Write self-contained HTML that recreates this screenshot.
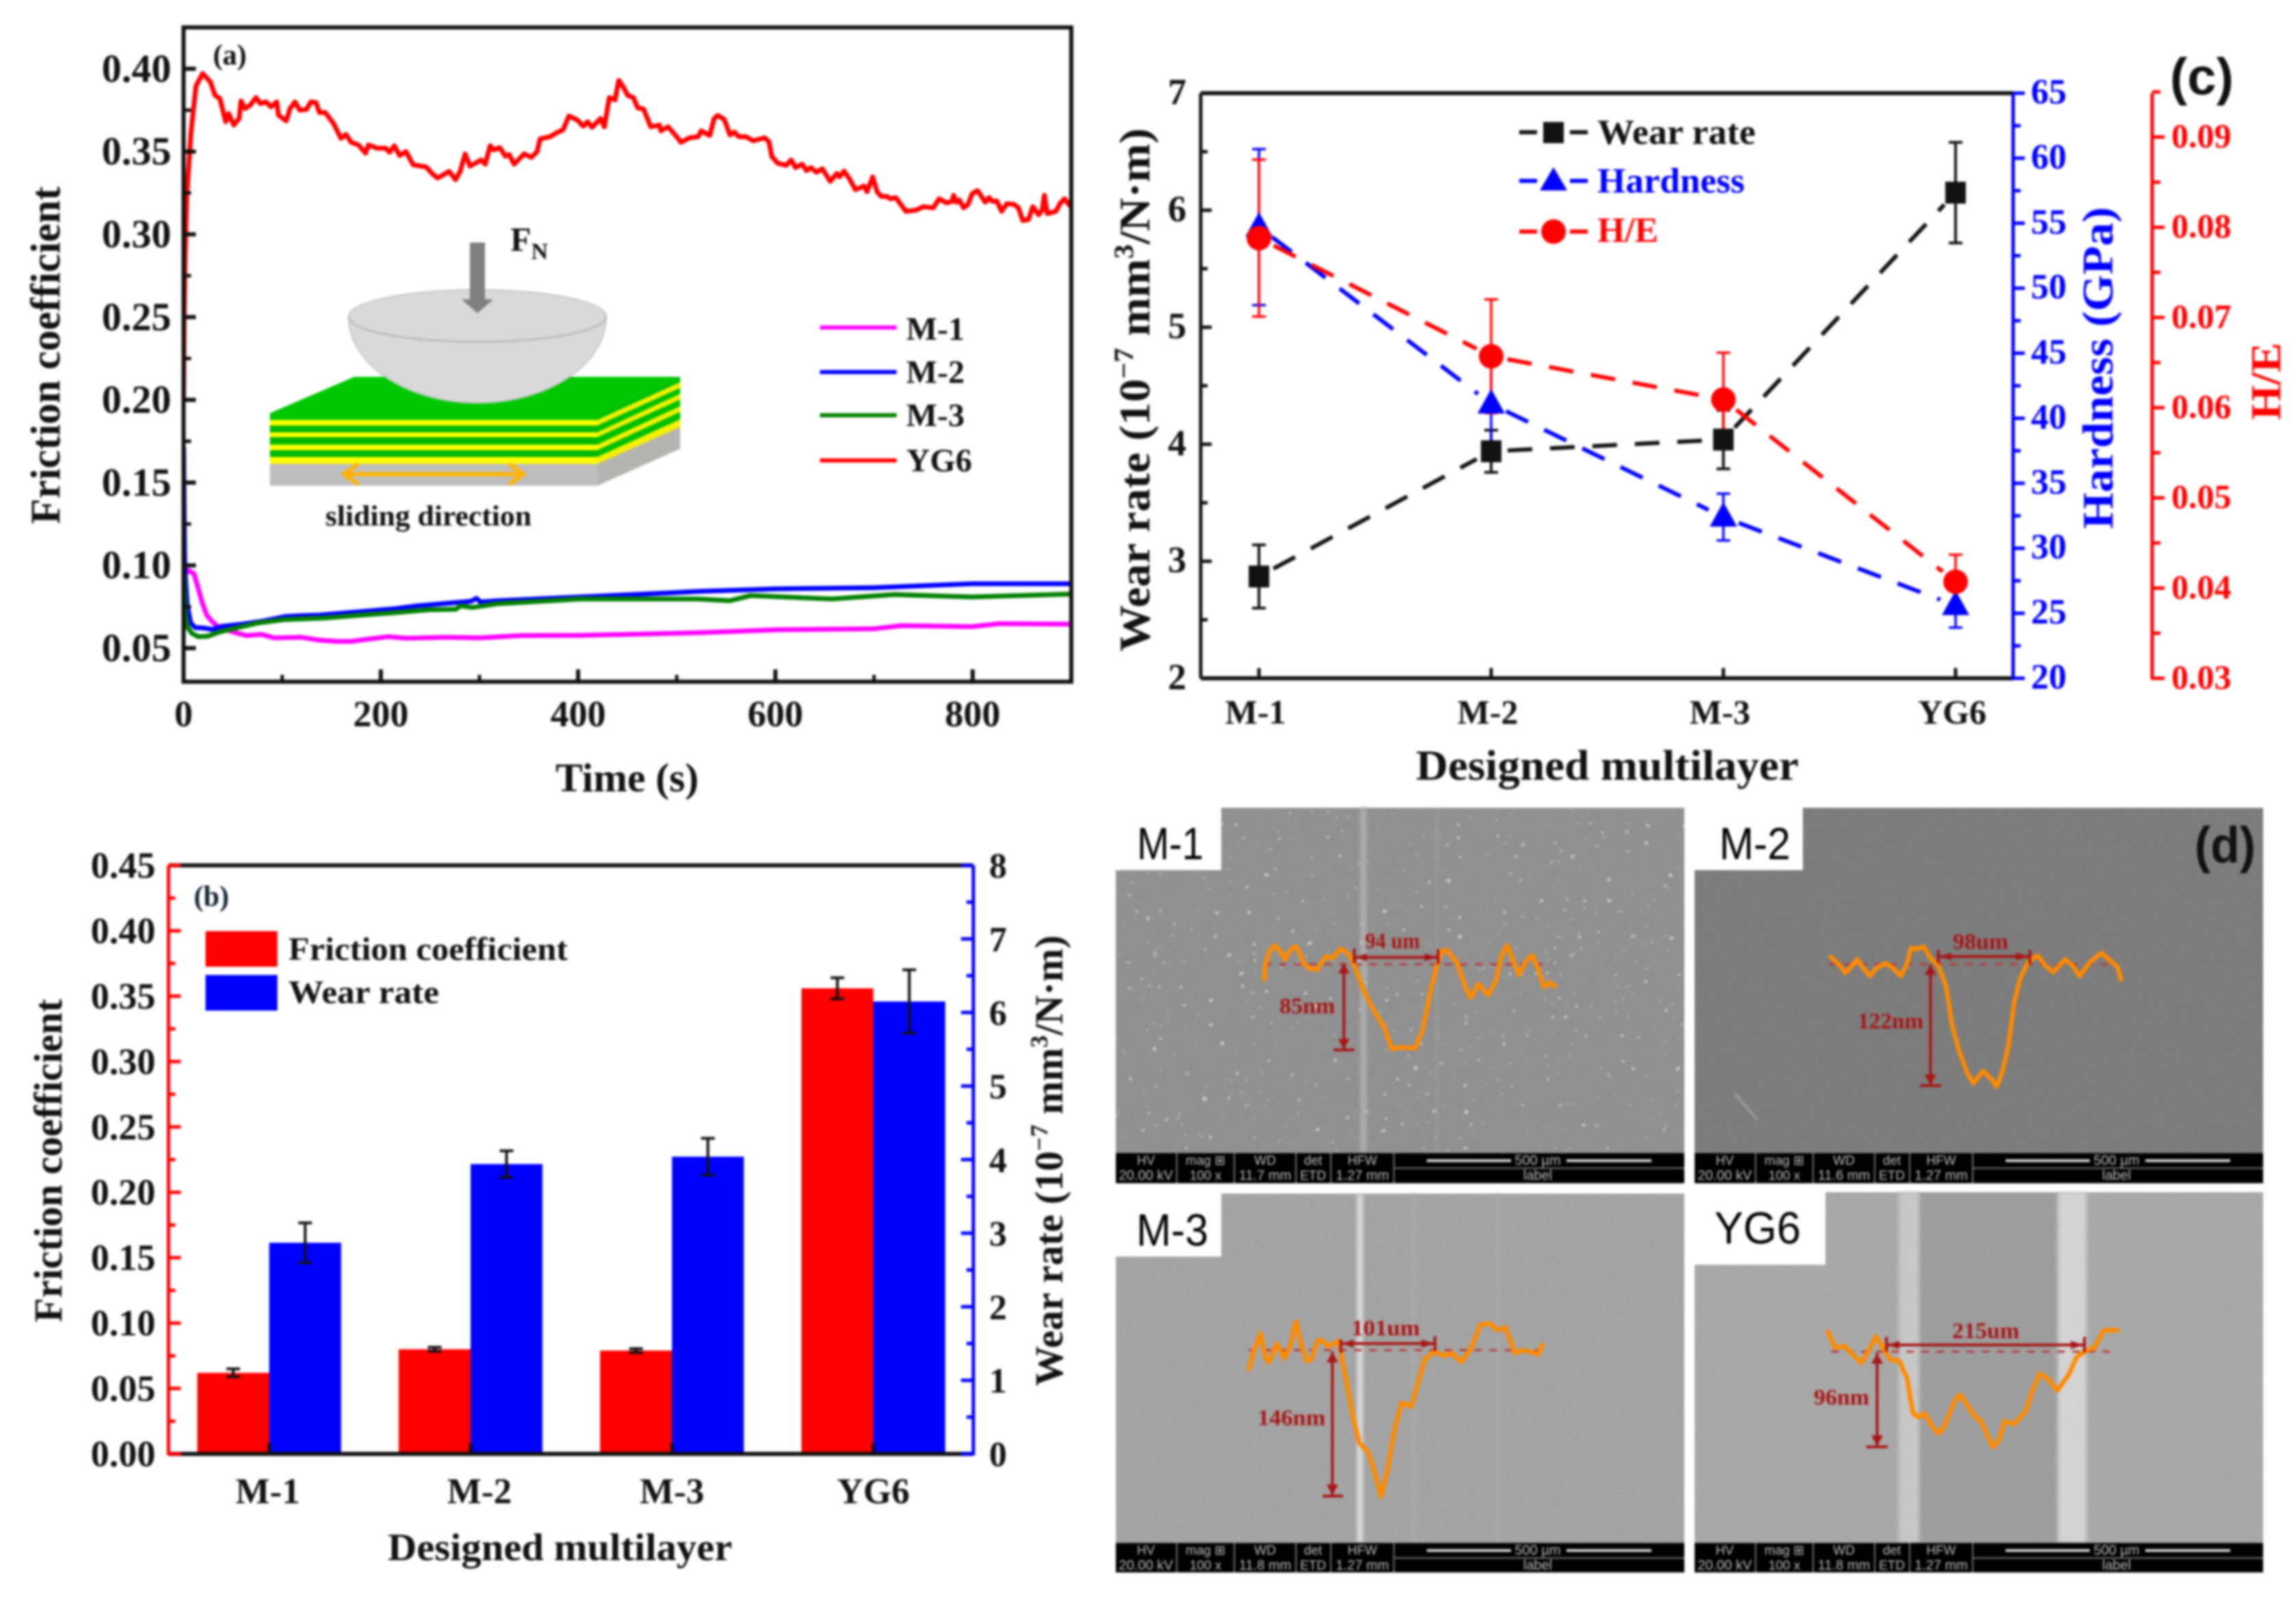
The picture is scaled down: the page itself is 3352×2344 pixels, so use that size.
<!DOCTYPE html>
<html lang="en">
<head>
<meta charset="utf-8">
<title>Friction and wear of designed multilayers</title>
<style>
html,body{margin:0;padding:0;background:#fff;width:3352px;height:2344px;overflow:hidden}
svg{display:block;filter:blur(1.7px)}
text{font-family:"Liberation Serif",serif;font-weight:700;fill:#111}
.sans{font-family:"Liberation Sans",sans-serif}
.semlabel{font-family:"Liberation Sans",sans-serif;font-weight:400;fill:#000;font-size:66px}
.note{fill:#a81414;font-size:33px}
.prof{fill:none;stroke:#ff8a00;stroke-width:6.5;stroke-linejoin:round;vector-effect:non-scaling-stroke}
.ann{fill:none;stroke:#a81414;stroke-width:4;vector-effect:non-scaling-stroke}
.dash{fill:none;stroke:#b83a3a;stroke-width:3;stroke-dasharray:11 11;vector-effect:non-scaling-stroke}
.head{fill:#a81414}
</style>
</head>
<body>
<svg id="figure" xmlns="http://www.w3.org/2000/svg" width="3352" height="2344" viewBox="0 0 3352 2344">
<defs>
<filter id="grain" x="0" y="0" width="100%" height="100%">
<feTurbulence type="fractalNoise" baseFrequency="0.3" numOctaves="2" seed="4"/>
<feColorMatrix type="matrix" values="0 0 0 0 1  0 0 0 0 1  0 0 0 0 1  1.5 0 0 0 -0.65"/>
</filter>
<filter id="speck" x="0" y="0" width="100%" height="100%">
<feTurbulence type="fractalNoise" baseFrequency="0.11" numOctaves="2" seed="11"/>
<feColorMatrix type="matrix" values="0 0 0 0 1  0 0 0 0 1  0 0 0 0 1  13 0 0 0 -9.6"/>
</filter>
<filter id="soft" x="-20%" y="-5%" width="140%" height="110%"><feGaussianBlur stdDeviation="3"/></filter>
<clipPath id="clip-a"><rect x="268" y="40" width="1296" height="955"/></clipPath>
</defs>
<rect width="3352" height="2344" fill="#fff"/>

<!-- PANEL A -->
<g id="panel-a">
<g id="inset">
<polygon points="394,603 517,550 993,550 872,603" fill="#00c800"/>
<polygon points="872,677 993,623 993,655 872,709" fill="#b4b4b0"/>
<polygon points="872,603 993,550 993,558 872,613" fill="#00c000"/>
<polygon points="872,613 993,558 993,566 872,621" fill="#f4f000"/>
<polygon points="872,621 993,566 993,575 872,631" fill="#00c000"/>
<polygon points="872,631 993,575 993,583 872,638" fill="#f4f000"/>
<polygon points="872,638 993,583 993,593 872,649" fill="#00c000"/>
<polygon points="872,649 993,593 993,601 872,657" fill="#f4f000"/>
<polygon points="872,657 993,601 993,612 872,667" fill="#00c000"/>
<polygon points="872,667 993,612 993,623 872,677" fill="#f4f000"/>
<rect x="394" y="603" width="478" height="10" fill="#00c800"/>
<rect x="394" y="613" width="478" height="8" fill="#ffff00"/>
<rect x="394" y="621" width="478" height="10" fill="#00b800"/>
<rect x="394" y="631" width="478" height="7" fill="#ffff00"/>
<rect x="394" y="638" width="478" height="11" fill="#00b800"/>
<rect x="394" y="649" width="478" height="8" fill="#ffff00"/>
<rect x="394" y="657" width="478" height="10" fill="#00b800"/>
<rect x="394" y="667" width="478" height="10" fill="#ffff00"/>
<rect x="394" y="677" width="478" height="32" fill="#bebebe"/>
<path d="M509,462 A188,126 0 0 0 885,462 A188,39 0 0 0 509,462 Z" fill="#d9d9d9" stroke="#c4c4c4" stroke-width="2"/>
<path d="M509,462 A188,37 0 0 0 885,462" fill="none" stroke="#bcbcbc" stroke-width="3"/>
<polygon points="686,354 708,354 708,437 720,437 697,457 674,437 686,437" fill="#7f7f7f"/>
<g fill="none" stroke="#ffb400" stroke-width="6">
<line x1="502" y1="692" x2="764" y2="692"/>
<polyline points="523,677 502,692 523,707"/>
<polyline points="743,677 764,692 743,707"/>
</g>
<text x="745" y="366" font-size="50">F<tspan font-size="34" dy="12">N</tspan></text>
<text x="475" y="767" font-size="42" textLength="301" lengthAdjust="spacingAndGlyphs">sliding direction</text>
</g>
<g id="series-a" clip-path="url(#clip-a)"></g>
<rect x="268" y="40" width="1296" height="955" fill="none" stroke="#111" stroke-width="6"/>
<g id="ticks-a"></g>
<text x="311" y="94" font-size="42">(a)</text>
<text transform="translate(87,765) rotate(-90)" font-size="61" textLength="493" lengthAdjust="spacingAndGlyphs">Friction coefficient</text>
<text x="811" y="1155" font-size="59" textLength="209" lengthAdjust="spacingAndGlyphs">Time (s)</text>
<g>
<line x1="1197" y1="478" x2="1309" y2="478" stroke="#ff00ff" stroke-width="6"/>
<line x1="1197" y1="543" x2="1309" y2="543" stroke="#0000ff" stroke-width="6"/>
<line x1="1197" y1="606" x2="1309" y2="606" stroke="#008000" stroke-width="6"/>
<line x1="1197" y1="672" x2="1309" y2="672" stroke="#ff0000" stroke-width="6"/>
<text x="1323" y="496" font-size="48">M-1</text>
<text x="1323" y="559" font-size="48">M-2</text>
<text x="1323" y="622" font-size="48">M-3</text>
<text x="1323" y="688" font-size="48">YG6</text>
</g>
</g>

<!-- PANEL B -->
<g id="panel-b">
<g id="bars-b"></g>
<line x1="246" y1="1263" x2="1421" y2="1263" stroke="#111" stroke-width="6"/>
<line x1="246" y1="2122" x2="1421" y2="2122" stroke="#111" stroke-width="6"/>
<line x1="246" y1="1263" x2="246" y2="2124" stroke="#ff0000" stroke-width="5"/>
<line x1="1421" y1="1263" x2="1421" y2="2124" stroke="#0000ff" stroke-width="5"/>
<g id="ticks-b"></g>
<text x="283" y="1322" font-size="42" style="fill:#123">(b)</text>
<rect x="300" y="1359" width="105" height="52" fill="#ff0000"/>
<rect x="300" y="1423" width="105" height="52" fill="#0000ff"/>
<text x="421" y="1401" font-size="48" textLength="408" lengthAdjust="spacingAndGlyphs">Friction coefficient</text>
<text x="421" y="1464" font-size="48" textLength="220" lengthAdjust="spacingAndGlyphs">Wear rate</text>
<text transform="translate(90,1930) rotate(-90)" font-size="58" textLength="472" lengthAdjust="spacingAndGlyphs">Friction coefficient</text>
<text transform="translate(1551,2023) rotate(-90)" font-size="58" textLength="658" lengthAdjust="spacingAndGlyphs">Wear rate (10<tspan font-size="36" dy="-22">−7</tspan><tspan dy="22"> mm</tspan><tspan font-size="36" dy="-22">3</tspan><tspan dy="22">/N·m)</tspan></text>
<text x="566" y="2277" font-size="56" textLength="503" lengthAdjust="spacingAndGlyphs">Designed multilayer</text>
</g>

<!-- PANEL C -->
<g id="panel-c">
<line x1="1753" y1="136" x2="2939" y2="136" stroke="#111" stroke-width="6"/>
<line x1="1753" y1="990" x2="2939" y2="990" stroke="#111" stroke-width="6"/>
<line x1="1753" y1="136" x2="1753" y2="990" stroke="#111" stroke-width="5"/>
<line x1="2939" y1="136" x2="2939" y2="992" stroke="#0000ff" stroke-width="5"/>
<line x1="3142" y1="136" x2="3142" y2="992" stroke="#ff0000" stroke-width="5"/>
<g id="ticks-c"></g>
<g id="series-c"></g>
<g>
<line x1="2218" y1="193" x2="2318" y2="193" stroke="#111" stroke-width="6" stroke-dasharray="26 48"/>
<rect x="2253" y="178" width="30" height="31" fill="#111"/>
<line x1="2218" y1="264" x2="2318" y2="264" stroke="#0000ff" stroke-width="6" stroke-dasharray="26 48"/>
<polygon points="2268,244 2288,278 2248,278" fill="#0000ff"/>
<line x1="2218" y1="338" x2="2318" y2="338" stroke="#ff0000" stroke-width="6" stroke-dasharray="26 48"/>
<circle cx="2268" cy="338" r="18" fill="#ff0000"/>
<text x="2332" y="210" font-size="52" textLength="231" lengthAdjust="spacingAndGlyphs">Wear rate</text>
<text x="2332" y="281" font-size="52" textLength="215" lengthAdjust="spacingAndGlyphs" style="fill:#0000ff">Hardness</text>
<text x="2332" y="353" font-size="52" textLength="89" lengthAdjust="spacingAndGlyphs" style="fill:#ff0000">H/E</text>
</g>
<text transform="translate(1678,951) rotate(-90)" font-size="64" textLength="764" lengthAdjust="spacingAndGlyphs">Wear rate (10<tspan font-size="40" dy="-24">−7</tspan><tspan dy="24"> mm</tspan><tspan font-size="40" dy="-24">3</tspan><tspan dy="24">/N·m)</tspan></text>
<text transform="translate(3084,772) rotate(-90)" font-size="64" textLength="470" lengthAdjust="spacingAndGlyphs" style="fill:#0000ff">Hardness (GPa)</text>
<text transform="translate(3329,613) rotate(-90)" font-size="62" textLength="113" lengthAdjust="spacingAndGlyphs" style="fill:#ff0000">H/E</text>
<text x="2067" y="1138" font-size="62" textLength="559" lengthAdjust="spacingAndGlyphs">Designed multilayer</text>
<text class="sans" x="3168" y="138" font-size="76">(c)</text>
</g>

<!-- PANEL D -->
<g id="panel-d">
<g>
<rect x="1629" y="1179" width="830" height="504" fill="#8f8f8f"/>
<rect x="1986" y="1179" width="9" height="504" fill="#aeaeae" filter="url(#soft)"/>
<rect x="2096" y="1179" width="4" height="504" fill="#9c9c9c" filter="url(#soft)"/>
<rect x="1629" y="1179" width="830" height="504" filter="url(#grain)" opacity="0.10"/>
<rect x="1629" y="1179" width="830" height="504" filter="url(#speck)" opacity="0.6"/>
<rect x="1629" y="1179" width="154" height="91" fill="#fff"/>
<text class="semlabel" x="1660" y="1254" textLength="97" lengthAdjust="spacingAndGlyphs">M-1</text>
</g>
<g>
<rect x="2474" y="1179" width="830" height="504" fill="#7b7b7b"/>
<rect x="2474" y="1179" width="830" height="504" filter="url(#grain)" opacity="0.10"/>
<rect x="2474" y="1179" width="158" height="91" fill="#fff"/>
<text class="semlabel" x="2510" y="1254" textLength="104" lengthAdjust="spacingAndGlyphs">M-2</text>
<line x1="2532" y1="1595" x2="2566" y2="1635" stroke="#999" stroke-width="4"/>
</g>
<g>
<rect x="1629" y="1742" width="830" height="510" fill="#a2a2a2"/>
<rect x="1981" y="1742" width="9" height="510" fill="#dcdcdc" filter="url(#soft)"/>
<rect x="2062" y="1742" width="4" height="510" fill="#adadad" filter="url(#soft)"/>
<rect x="2184" y="1742" width="4" height="510" fill="#ababab" filter="url(#soft)"/>
<rect x="1629" y="1742" width="830" height="510" filter="url(#grain)" opacity="0.14"/>
<rect x="1629" y="1742" width="154" height="92" fill="#fff"/>
<text class="semlabel" x="1659" y="1818" textLength="105" lengthAdjust="spacingAndGlyphs">M-3</text>
</g>
<g>
<rect x="2474" y="1740" width="830" height="512" fill="#a6a6a6"/>
<rect x="2800" y="1740" width="210" height="512" fill="#9b9b9b"/>
<rect x="2772" y="1740" width="30" height="512" fill="#c6c6c6" filter="url(#soft)"/>
<rect x="3004" y="1740" width="42" height="512" fill="#d2d2d2" filter="url(#soft)"/>
<rect x="2474" y="1740" width="830" height="512" filter="url(#grain)" opacity="0.18"/>
<rect x="2474" y="1740" width="191" height="106" fill="#fff"/>
<text class="semlabel" x="2503" y="1815" textLength="126" lengthAdjust="spacingAndGlyphs">YG6</text>
</g>
<g id="info-bars"></g>

<g transform="translate(1600,1170) scale(.5612,.3744)">
<line class="dash" x1="437" y1="634" x2="1185" y2="634"/>
<polyline class="prof" points="437,700 440,640 450,585 465,560 480,585 492,615 505,580 518,562 530,590 540,630 555,650 575,655 590,620 600,603 615,610 635,575 650,585 665,610 680,670 700,750 725,820 750,880 770,965 790,958 830,962 850,890 870,740 885,650 900,580 915,582 940,630 960,720 975,765 995,710 1020,755 1040,700 1055,600 1070,560 1085,620 1100,675 1120,620 1135,600 1150,650 1165,722 1182,705 1197,725"/>
<g>
<path class="ann" d="M672,607H890M672,572V630M890,575V633M645,630V968M618,968H672"/>
<polygon class="head" points="675,607 705,592 705,622"/><polygon class="head" points="888,607 855,592 855,622"/>
<polygon class="head" points="645,632 630,670 660,670"/><polygon class="head" points="645,965 630,925 660,925"/>
</g>
</g>
<text class="note" x="1993" y="1384" textLength="80" lengthAdjust="spacingAndGlyphs">94 um</text>
<text class="note" x="1868" y="1479" textLength="81" lengthAdjust="spacingAndGlyphs">85nm</text>

<g transform="translate(2460,1170) scale(.5689,.3744)">
<line class="dash" x1="370" y1="634" x2="1110" y2="634"/>
<polyline class="prof" points="370,600 395,635 412,668 428,640 442,615 458,650 475,680 490,650 515,630 535,650 553,680 568,640 580,570 595,575 612,565 630,610 650,640 670,720 685,870 705,980 725,1060 740,1098 765,1050 785,1080 800,1110 815,1050 830,950 845,780 860,690 880,625 905,600 925,640 945,665 975,615 995,640 1012,680 1040,625 1068,590 1095,625 1110,645 1120,700"/>
<g>
<path class="ann" d="M650,604H885M650,578V630M885,578V632M630,635V1107M603,1107H657"/>
<polygon class="head" points="653,604 683,589 683,619"/><polygon class="head" points="883,604 850,589 850,619"/>
<polygon class="head" points="630,637 615,675 645,675"/><polygon class="head" points="630,1104 615,1064 645,1064"/>
</g>
</g>
<text class="note" x="2851" y="1385" textLength="81" lengthAdjust="spacingAndGlyphs">98um</text>
<text class="note" x="2712" y="1501" textLength="96" lengthAdjust="spacingAndGlyphs">122nm</text>

<g transform="translate(1600,1730) scale(.5612,.3916)">
<line class="dash" x1="397" y1="614" x2="1160" y2="614"/>
<polyline class="prof" points="397,690 410,620 428,552 440,640 450,660 470,590 490,645 505,600 520,508 535,600 548,655 560,650 575,585 585,575 605,600 632,580 635,610 650,720 670,870 685,960 708,995 725,1070 742,1160 757,1070 775,920 795,810 820,825 835,750 855,650 880,620 905,635 925,625 950,658 975,610 1000,520 1025,515 1045,540 1065,530 1090,625 1110,615 1130,620 1150,630 1163,590"/>
<g>
<path class="ann" d="M637,590H882M637,575V625M882,562V618M615,620V1158M590,1158H643"/>
<polygon class="head" points="640,590 670,575 670,605"/><polygon class="head" points="880,590 847,575 847,605"/>
<polygon class="head" points="615,622 600,660 630,660"/><polygon class="head" points="615,1155 600,1115 630,1115"/>
</g>
</g>
<text class="note" x="1973" y="1949" textLength="100" lengthAdjust="spacingAndGlyphs">101um</text>
<text class="note" x="1836" y="2080" textLength="99" lengthAdjust="spacingAndGlyphs">146nm</text>

<g transform="translate(2460,1730) scale(.5689,.3916)">
<line class="dash" x1="375" y1="620" x2="1110" y2="620"/>
<polyline class="prof" points="365,540 385,605 410,600 430,630 452,662 470,620 490,563 510,610 525,648 550,655 570,720 585,850 600,865 615,850 635,900 650,925 665,900 690,810 705,780 725,820 740,855 760,880 775,930 790,975 805,950 820,880 845,890 875,840 890,770 910,702 930,720 955,765 985,705 1005,640 1030,615 1050,605 1075,540 1115,540"/>
<g>
<path class="ann" d="M517,595H1025M517,565V620M1025,565V622M493,625V975M465,975H520"/>
<polygon class="head" points="520,595 550,580 550,610"/><polygon class="head" points="1023,595 990,580 990,610"/>
<polygon class="head" points="493,627 478,665 508,665"/><polygon class="head" points="493,972 478,932 508,932"/>
</g>
</g>
<text class="note" x="2850" y="1953" textLength="98" lengthAdjust="spacingAndGlyphs">215um</text>
<text class="note" x="2648" y="2050" textLength="81" lengthAdjust="spacingAndGlyphs">96nm</text>

<text class="sans" x="3204" y="1259" font-size="74" textLength="89" lengthAdjust="spacingAndGlyphs">(d)</text>
</g>
</svg>

<script>
// ---- Panel (a): friction coefficient vs. time ----
const timeYG6 = [0,0.6,1.5,3.2,7.6,12.6,19.3,27.2,31.9,36.8,42.7,45.6,50.9,56.4,58.2,62.3,67.5,73.4,77.8,83.6,88.6,94.4,96.2,104,107.9,112.9,117.8,124.6,129,134.2,137.7,143.6,152.3,159.6,164.6,169.9,177.2,184.5,187.4,196.2,205,208.8,213.7,219,225.4,232.7,245.9,251.8,257.6,269.3,275.7,280.4,285.4,290.4,301.5,305.8,310.8,314.6,320.5,326.3,330.1,335.1,345.3,352.6,358.5,361.4,371.6,377.5,384.8,390.7,399.4,405.3,409.6,414,422.8,426.6,431.6,437.4,441.2,445.8,450.2,456,460.4,466.3,473.6,482.4,483.8,491.1,499.9,504.3,513,521.8,524.7,533.5,537.9,541.7,548.1,554,558.4,562.8,570.1,577.4,589.1,593.5,596.4,602.2,611,616,620.4,627.1,631.5,635.9,641.7,647.6,655.7,662.2,665.1,669.5,675.3,681.2,689.9,692.9,698.7,703.1,707.5,713.3,716.3,722.1,732.3,742.6,749.9,760.1,766,773.3,779.1,780.6,783.5,786.4,790.8,795.2,799.6,804.9,812.8,816.6,820.1,824.5,829.4,834.7,842,846.4,850.8,856.6,861,866.9,870.4,872.7,875.7,884.4,888.8,893.2,898.4,900];
const frictionYG6 = [0.20,0.25,0.285,0.323,0.362,0.3896,0.3972,0.392,0.384,0.382,0.368,0.373,0.366,0.370,0.3806,0.376,0.378,0.3826,0.379,0.380,0.377,0.380,0.372,0.3685,0.376,0.380,0.375,0.3754,0.380,0.3796,0.3736,0.3736,0.3667,0.358,0.3604,0.3556,0.354,0.349,0.354,0.352,0.352,0.3496,0.3535,0.3476,0.350,0.342,0.3407,0.3368,0.334,0.338,0.333,0.338,0.3486,0.3412,0.3449,0.3424,0.3535,0.351,0.3524,0.3472,0.3482,0.3424,0.3486,0.3465,0.350,0.3576,0.359,0.3611,0.3632,0.3715,0.369,0.3653,0.368,0.3646,0.370,0.3649,0.3826,0.3812,0.393,0.389,0.384,0.3826,0.3764,0.3757,0.365,0.366,0.3625,0.365,0.359,0.3556,0.3583,0.359,0.3625,0.3597,0.370,0.3718,0.3694,0.360,0.3618,0.359,0.359,0.3565,0.3583,0.356,0.347,0.343,0.3417,0.3449,0.3403,0.3424,0.3385,0.3403,0.3375,0.3396,0.332,0.3368,0.3347,0.3382,0.3333,0.327,0.3292,0.3257,0.3347,0.3257,0.3229,0.3229,0.3215,0.3222,0.3139,0.3146,0.3167,0.316,0.3215,0.319,0.3199,0.3236,0.3194,0.3208,0.316,0.318,0.3246,0.3264,0.3194,0.3222,0.3199,0.3201,0.3139,0.3185,0.3181,0.316,0.3083,0.309,0.3167,0.3118,0.3146,0.3236,0.3125,0.3139,0.3188,0.3215,0.3174,0.3174];
const timeM1 = [0,2,4.9,10.6,15.3,18.8,23.4,29.2,36.1,52.3,63.9,78.9,91.7,119,138,156,170,184,207,226,268,300,342,402,522,600,700,728,799,827,900];
const frictionM1 = [0.09,0.095,0.097,0.0949,0.0852,0.0776,0.070,0.0659,0.0624,0.0594,0.0576,0.0583,0.0562,0.0566,0.0548,0.0541,0.0541,0.0552,0.0569,0.056,0.0566,0.0562,0.0576,0.0577,0.0593,0.0611,0.0617,0.0636,0.063,0.0648,0.0645];
const timeM2 = [0,1,1.4,3.7,7.2,11.8,20,29,38,59,80,103,119,138,157,180,214,237,272,291,297,301,319,342,402,494,522,600,700,799,900];
const frictionM2 = [0.1714,0.1108,0.097,0.0762,0.0652,0.0624,0.0622,0.0613,0.0631,0.0645,0.0663,0.0691,0.0696,0.070,0.071,0.0721,0.0738,0.0756,0.0773,0.0783,0.0801,0.0779,0.0787,0.0793,0.0809,0.0834,0.0843,0.0858,0.0865,0.0889,0.0889];
const timeM3 = [0,0.6,1.4,3.7,8.3,15,24.5,36,55,75,103,143,180,214,249,276,281,293,319,342,402,522,554,575,657,721,799,900];
const frictionM3 = [0.095,0.0873,0.0721,0.0631,0.059,0.0569,0.0572,0.0597,0.0624,0.0652,0.0673,0.0682,0.07,0.0714,0.0732,0.0735,0.0756,0.0746,0.0769,0.0776,0.0797,0.0797,0.0787,0.0818,0.0797,0.0824,0.0809,0.0827];
const timeTicksA = ['0','200','400','600','800'];
const timeMinorA = [100,300,500,700,900];
const frictionTicksA = ['0.05','0.10','0.15','0.20','0.25','0.30','0.35','0.40'];

// ---- Panel (b): bars ----
const categoriesB = ['M-1','M-2','M-3','YG6'];
const frictionB = [0.062,0.080,0.079,0.356];
const frictionErrB = [0.003,0.0015,0.0015,0.008];
const wearB = [2.87,3.94,4.04,6.15];
const wearErrB = [0.27,0.18,0.25,0.43];
const leftTicksB = ['0.00','0.05','0.10','0.15','0.20','0.25','0.30','0.35','0.40','0.45'];
const rightTicksB = ['0','1','2','3','4','5','6','7','8'];

// ---- Panel (c): wear rate, hardness, H/E ----
const categoriesC = ['M-1','M-2','M-3','YG6'];
const wearC = [2.87,3.94,4.04,6.15];
const wearErrC = [0.27,0.18,0.25,0.43];
const hardnessC = [54.7,41.1,32.4,25.6];
const hardnessErrC = [6,4,1.8,1.7];
const heC = [0.0788,0.0657,0.0609,0.0407];
const heErrC = [0.0087,0.0063,0.0052,0.003];
const wearTicksC = ['2','3','4','5','6','7'];
const hardnessTicksC = ['20','25','30','35','40','45','50','55','60','65'];
const heTicksC = ['0.03','0.04','0.05','0.06','0.07','0.08','0.09'];

// ---- Panel (d): SEM info bars ----
const semWorkingDistance = ['11.7 mm','11.6 mm','11.8 mm','11.8 mm'];

const NS = 'http://www.w3.org/2000/svg';
function make(tag, parent, attrs){
  const el = document.createElementNS(NS, tag);
  for (const k in attrs) el.setAttribute(k, attrs[k]);
  parent.appendChild(el);
  return el;
}
function line(parent,x1,y1,x2,y2,color,w,dash){
  const a = {x1:x1,y1:y1,x2:x2,y2:y2,stroke:color,'stroke-width':w};
  if (dash) a['stroke-dasharray'] = dash;
  return make('line',parent,a);
}
function label(parent,x,y,str,size,color,anchor){
  const el = make('text',parent,{x:x,y:y,'font-size':size,'text-anchor':anchor||'middle'});
  el.style.fill = color;
  el.textContent = str;
  return el;
}

// Axis functions
const xA = t => 268 + t*1.44;
const yA = v => 946 - (v-0.05)*2416;
const xB = i => 393 + i*294;
const yBf = v => 2122 - v*(859/0.45);
const yBw = v => 2122 - v*(859/8);
const xC = i => 1838 + i*339;
const yCw = v => 990 - (v-2)*170.8;
const yCh = v => 990 - (v-20)*(854/45);
const yCe = v => 990 - (v-0.03)*13166;

// Panel (a) curves
const seriesA = document.getElementById('series-a');
function curve(ts, vs, color, name){
  const p = make('polyline',seriesA,{
    points: ts.map((t,i)=>xA(t).toFixed(1)+','+yA(vs[i]).toFixed(1)).join(' '),
    fill:'none',stroke:color,'stroke-width':7,'stroke-linejoin':'round'
  });
  
  
}
curve(timeYG6,frictionYG6,'#ff0000','curve-yg6');
curve(timeM1,frictionM1,'#ff00ff','curve-m1');
curve(timeM2,frictionM2,'#0000ff','curve-m2');
curve(timeM3,frictionM3,'#008000','curve-m3');

// Panel (a) ticks
const ticksA = document.getElementById('ticks-a');
timeTicksA.forEach(s=>{
  const t = +s;
  const tk = line(ticksA,xA(t),995,xA(t),977,'#111',6);
  
  
  const lb = label(ticksA,xA(t),1060,s,54,'#111');
  
  
});
timeMinorA.forEach(t=>{
  const tk = line(ticksA,xA(t),995,xA(t),985,'#111',5);
  
  
});
frictionTicksA.forEach(s=>{
  const v = +s;
  const tk = line(ticksA,268,yA(v),286,yA(v),'#111',6);
  
  
  const mn = line(ticksA,268,yA(v+0.025),279,yA(v+0.025),'#111',5);
  
  
  const lb = label(ticksA,250,yA(v)+19,s,58,'#111','end');
  
  
});

// Panel (b) bars
const barsB = document.getElementById('bars-b');
const BW = 105;
categoriesB.forEach((cat,i)=>{
  const c = xB(i);
  const r = make('rect',barsB,{x:c-BW,y:yBf(frictionB[i]),width:BW,height:2122-yBf(frictionB[i]),fill:'#ff0000'});
  
  
  const b = make('rect',barsB,{x:c,y:yBw(wearB[i]),width:BW,height:2122-yBw(wearB[i]),fill:'#0000ff'});
  
  
  const cf = c-BW/2, cw = c+BW/2;
  const e1 = make('path',barsB,{d:`M${cf},${yBf(frictionB[i]+frictionErrB[i])}V${yBf(frictionB[i]-frictionErrB[i])}M${cf-10},${yBf(frictionB[i]+frictionErrB[i])}h20M${cf-10},${yBf(frictionB[i]-frictionErrB[i])}h20`,stroke:'#111','stroke-width':4,fill:'none'});
  
  
  const e2 = make('path',barsB,{d:`M${cw},${yBw(wearB[i]+wearErrB[i])}V${yBw(wearB[i]-wearErrB[i])}M${cw-10},${yBw(wearB[i]+wearErrB[i])}h20M${cw-10},${yBw(wearB[i]-wearErrB[i])}h20`,stroke:'#111','stroke-width':4,fill:'none'});
  
  
});

// Panel (b) ticks
const ticksB = document.getElementById('ticks-b');
leftTicksB.forEach(s=>{
  const v = +s;
  const tk = line(ticksB,246,yBf(v),264,yBf(v),'#ff0000',5);
  
  
  if (v < 0.44) {
    const mn = line(ticksB,246,yBf(v+0.025),256,yBf(v+0.025),'#ff0000',5);
    
    
  }
  const lb = label(ticksB,227,yBf(v)+18,s,54,'#111','end');
  
  
});
rightTicksB.forEach(s=>{
  const v = +s;
  const tk = line(ticksB,1403,yBw(v),1421,yBw(v),'#0000ff',5);
  
  
  if (v < 8) {
    const mn = line(ticksB,1411,yBw(v+0.5),1421,yBw(v+0.5),'#0000ff',5);
    
    
  }
  const lb = label(ticksB,1444,yBw(v)+18,s,52,'#111','start');
  
  
});
categoriesB.forEach((cat,i)=>{
  const tk = line(ticksB,xB(i),2122,xB(i),2106,'#111',5);
  
  
  const nudge = cat === 'M-2' ? 13 : (cat === 'M-1' ? -2 : 0);
  const lb = label(ticksB,xB(i)+nudge,2194,cat,53,'#111');
  
  
});

// Panel (c) ticks
const ticksC = document.getElementById('ticks-c');
wearTicksC.forEach(s=>{
  const v = +s;
  const tk = line(ticksC,1753,yCw(v),1769,yCw(v),'#111',5);
  
  
  if (v < 7) {
    const mn = line(ticksC,1753,yCw(v+0.5),1763,yCw(v+0.5),'#111',5);
    
    
  }
  const lb = label(ticksC,1732,yCw(v)+16,s,54,'#111','end');
  
  
});
hardnessTicksC.forEach(s=>{
  const v = +s;
  const tk = line(ticksC,2939,yCh(v),2956,yCh(v),'#0000ff',5);
  
  
  if (v < 65) {
    const mn = line(ticksC,2939,yCh(v+2.5),2950,yCh(v+2.5),'#0000ff',5);
    
    
  }
  const lb = label(ticksC,2965,yCh(v)+15,s,52,'#0000ff','start');
  
  
});
heTicksC.forEach(s=>{
  const v = +s;
  const tk = line(ticksC,3142,yCe(v),3160,yCe(v),'#ff0000',5);
  
  
  const mn = line(ticksC,3142,yCe(v+0.005),3154,yCe(v+0.005),'#ff0000',5);
  
  
  const lb = label(ticksC,3170,yCe(v)+15,s,50,'#ff0000','start');
  
  
});
categoriesC.forEach((cat,i)=>{
  const tk = line(ticksC,xC(i),990,xC(i),975,'#111',5);
  
  
  const lb = label(ticksC,xC(i)-5,1056,cat,50,'#111');
  
  
});

// Panel (c) series
const seriesC = document.getElementById('series-c');
function linked(vals, yFn, color, name){
  for (let i=0;i<vals.length-1;i++){
    const x1=xC(i), y1=yFn(vals[i]), x2=xC(i+1), y2=yFn(vals[i+1]);
    const d=Math.hypot(x2-x1,y2-y1), g=24;
    const ux=(x2-x1)/d, uy=(y2-y1)/d;
    const seg=line(seriesC,x1+ux*g,y1+uy*g,x2-ux*g,y2-uy*g,color,6,'36 26');
    
    
  }
}
function errors(vals, errs, yFn, color, w, name){
  vals.forEach((v,i)=>{
    const x=xC(i), t=yFn(v+errs[i]), b=yFn(v-errs[i]);
    const e=make('path',seriesC,{d:`M${x},${t}V${b}M${x-10},${t}h20M${x-10},${b}h20`,stroke:color,'stroke-width':w,fill:'none'});
    
    
  });
}
linked(wearC,yCw,'#111','wear-rate-line');
linked(hardnessC,yCh,'#0000ff','hardness-line');
linked(heC,yCe,'#ff0000','he-line');
errors(wearC,wearErrC,yCw,'#111',4,'wear-rate-error-bar');
errors(hardnessC,hardnessErrC,yCh,'#0000ff',3.5,'hardness-error-bar');
errors(heC,heErrC,yCe,'#ff0000',3.5,'he-error-bar');
wearC.forEach((v,i)=>{
  const m=make('rect',seriesC,{x:xC(i)-15,y:yCw(v)-16,width:30,height:32,fill:'#111'});
  
  
});
hardnessC.forEach((v,i)=>{
  const x=xC(i), y=yCh(v);
  const m=make('polygon',seriesC,{points:`${x},${y-22} ${x+20},${y+14} ${x-20},${y+14}`,fill:'#0000ff'});
  
  
});
heC.forEach((v,i)=>{
  const m=make('circle',seriesC,{cx:xC(i),cy:yCe(v),r:18,fill:'#ff0000'});
  
  
});

// Panel (d) info bars
const bars = document.getElementById('info-bars');
[[1629,1683,44],[2474,1683,44],[1629,2252,43],[2474,2252,43]].forEach((p,i)=>{
  const L=p[0], T=p[1], H=p[2];
  const g=make('g',bars,{});
  
  
  make('rect',g,{x:L,y:T,width:830,height:H,fill:'#000'});
  [89,173,263,314,406].forEach(dx=>line(g,L+dx,T,L+dx,T+H,'#777',2));
  line(g,L+406,T+22,L+830,T+22,'#777',2);
  line(g,L+454,T+11,L+577,T+11,'#d8d8d8',4);
  line(g,L+658,T+11,L+782,T+11,'#d8d8d8',4);
  const top=['HV','mag ⊞','WD','det','HFW'], bot=['20.00 kV','100 x',semWorkingDistance[i],'ETD','1.27 mm'];
  const cx=[44,131,218,288,360];
  top.forEach((s,k)=>{
    const t=label(g,L+cx[k],T+17,s,19,'#bdbdbd');
    t.setAttribute('class', 'sans');
    t.style.fontWeight='400';
  });
  bot.forEach((s,k)=>{
    const t=label(g,L+cx[k],T+39,s,k===0||k===2||k===4?20:19,'#bdbdbd');
    t.setAttribute('class', 'sans');
    t.style.fontWeight='400';
  });
  const sc=label(g,L+616,T+17,'500 µm',20,'#bdbdbd');
  sc.setAttribute('class', 'sans');
  sc.style.fontWeight='400';
  const lab=label(g,L+616,T+39,'label',20,'#bdbdbd');
  lab.setAttribute('class', 'sans');
  lab.style.fontWeight='400';
});
</script>
</body>
</html>
